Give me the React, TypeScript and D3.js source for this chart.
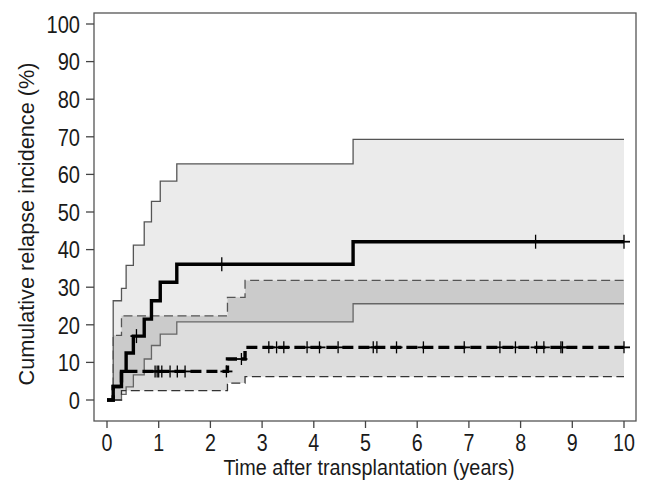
import React from "react";
import * as d3 from "d3";

// ---- data ----
const xTicks = [0, 1, 2, 3, 4, 5, 6, 7, 8, 9, 10];
const yTicks = [0, 10, 20, 30, 40, 50, 60, 70, 80, 90, 100];
const T_END = 10;

// Group 1 (solid)
const g1Times = [0.12, 0.28, 0.37, 0.51, 0.72, 0.86, 1.03, 1.35, 4.76];
const g1Est = [3.6, 7.6, 12.5, 17, 21.5, 26.4, 31.3, 36.1, 42.1];
const g1Upper = [26.4, 29.7, 35.8, 41.2, 47.4, 52.8, 58.2, 62.8, 69.3];
const g1Lower = [0, 1.5, 3.5, 6.7, 10.9, 14.5, 17.5, 20.8, 25.6];
const g1CensorT = [0.57, 2.22, 8.29, 10];
const g1CensorV = [17, 36.1, 42.1, 42.1];

// Group 2 (dashed)
const g2Times = [0.12, 0.28, 2.33, 2.67];
const g2Est = [3.6, 7.6, 10.9, 14];
const g2Upper = [17.2, 22.4, 27.3, 31.8];
const g2Lower = [0, 2.5, 4.5, 6.2];
const g2CensorT = [
  0.93, 0.97, 1.0, 1.06, 1.22, 1.36, 1.51, 2.31, 2.6, 3.13, 3.28, 3.42, 3.87,
  4.11, 4.47, 5.15, 5.22, 5.6, 6.12, 6.91, 7.6, 7.9, 8.31, 8.45, 8.78, 8.81, 10,
];
const g2CensorV = [
  7.6, 7.6, 7.6, 7.6, 7.6, 7.6, 7.6, 7.6, 10.9, 14, 14, 14, 14, 14, 14, 14, 14,
  14, 14, 14, 14, 14, 14, 14, 14, 14, 14,
];

const xLabel = "Time after transplantation (years)";
const yLabel = "Cumulative relapse incidence (%)";

type P = [number, number];

function estSeries(times: number[], vals: number[]): P[] {
  const pts: P[] = [[0, 0]];
  times.forEach((t, i) => pts.push([t, vals[i]]));
  pts.push([T_END, vals[vals.length - 1]]);
  return pts;
}
function ciSeries(times: number[], vals: number[]): P[] {
  const pts: P[] = [[times[0], 0]];
  times.forEach((t, i) => pts.push([t, vals[i]]));
  pts.push([T_END, vals[vals.length - 1]]);
  return pts;
}
function band(times: number[], lo: number[], hi: number[]) {
  const pts = times.map((t, i) => ({ t, lo: lo[i], hi: hi[i] }));
  pts.push({ t: T_END, lo: lo[lo.length - 1], hi: hi[hi.length - 1] });
  return pts;
}

const FONT = "'Liberation Sans', Arial, sans-serif";

export default function App() {
  const x = d3.scaleLinear().domain([0, 10]).range([107, 624]);
  const y = d3.scaleLinear().domain([0, 100]).range([400, 24]);
  const box = { x0: 94, x1: 636, y0: 13, y1: 421 };

  const line = d3
    .line<P>()
    .x((d) => x(d[0]))
    .y((d) => y(d[1]))
    .curve(d3.curveStepAfter);
  const area = d3
    .area<{ t: number; lo: number; hi: number }>()
    .x((d) => x(d.t))
    .y0((d) => y(d.lo))
    .y1((d) => y(d.hi))
    .curve(d3.curveStepAfter);

  const plus = (t: number, v: number, h: number, key: string) => (
    <g key={key} stroke="#000" fill="none">
      <line x1={x(t)} x2={x(t)} y1={y(v) - h} y2={y(v) + h} strokeWidth={1.3} />
      <line x1={x(t) - 6} x2={x(t) + 6} y1={y(v)} y2={y(v)} strokeWidth={1.8} />
    </g>
  );

  return (
    <svg
      width={648}
      height={482}
      style={{ position: "absolute", left: 0, top: 0, background: "#fff" }}
    >
      <rect x={0} y={0} width={648} height={482} fill="#fff" />
      {/* confidence bands */}
      <path d={area(band(g1Times, g1Lower, g1Upper)) || ""} fill="#000" fillOpacity={0.08} />
      <path d={area(band(g2Times, g2Lower, g2Upper)) || ""} fill="#000" fillOpacity={0.135} />

      {/* CI lines group 1 */}
      <path d={line(ciSeries(g1Times, g1Upper)) || ""} fill="none" stroke="#555" strokeWidth={1.3} />
      <path d={line(ciSeries(g1Times, g1Lower)) || ""} fill="none" stroke="#666" strokeWidth={1.3} />
      {/* CI lines group 2 */}
      <path d={line(ciSeries(g2Times, g2Upper)) || ""} fill="none" stroke="#555" strokeWidth={1.3} strokeDasharray="9,4.5" />
      <path d={line(ciSeries(g2Times, g2Lower)) || ""} fill="none" stroke="#333" strokeWidth={1.3} strokeDasharray="9,4.5" />

      {/* estimates */}
      <path d={line(estSeries(g2Times, g2Est)) || ""} fill="none" stroke="#000" strokeWidth={3.4} strokeDasharray="11,5" />
      <path d={line(estSeries(g1Times, g1Est)) || ""} fill="none" stroke="#000" strokeWidth={3.4} />

      {g1CensorT.map((t, i) => plus(t, g1CensorV[i], 7, "c1" + i))}
      {g2CensorT.map((t, i) => plus(t, g2CensorV[i], 6, "c2" + i))}

      {/* box */}
      <rect
        x={box.x0}
        y={box.y0}
        width={box.x1 - box.x0}
        height={box.y1 - box.y0}
        fill="none"
        stroke="#555"
        strokeWidth={1.3}
      />

      {/* y axis */}
      {yTicks.map((v) => (
        <g key={"y" + v}>
          <line x1={86} x2={box.x0} y1={y(v)} y2={y(v)} stroke="#444" strokeWidth={1.3} />
          <text
            transform={`translate(80,${y(v)}) scale(0.82,1)`}
            textAnchor="end"
            dy="0.36em"
            fontFamily={FONT}
            fontSize={24.5}
            fill="#1a1a1a"
          >
            {v}
          </text>
        </g>
      ))}
      {/* x axis */}
      {xTicks.map((t) => (
        <g key={"x" + t}>
          <line x1={x(t)} x2={x(t)} y1={box.y1} y2={428} stroke="#444" strokeWidth={1.3} />
          <text
            transform={`translate(${x(t)},451) scale(0.82,1)`}
            textAnchor="middle"
            fontFamily={FONT}
            fontSize={24}
            fill="#1a1a1a"
          >
            {t}
          </text>
        </g>
      ))}

      <text
        x={369}
        y={475}
        textAnchor="middle"
        fontFamily={FONT}
        fontSize={22.5}
        fill="#1a1a1a"
        textLength={291}
        lengthAdjust="spacingAndGlyphs"
      >
        {xLabel}
      </text>
      <text
        transform={`translate(34,224) rotate(-90)`}
        textAnchor="middle"
        fontFamily={FONT}
        fontSize={22.5}
        fill="#1a1a1a"
        textLength={323}
        lengthAdjust="spacingAndGlyphs"
      >
        {yLabel}
      </text>
    </svg>
  );
}
